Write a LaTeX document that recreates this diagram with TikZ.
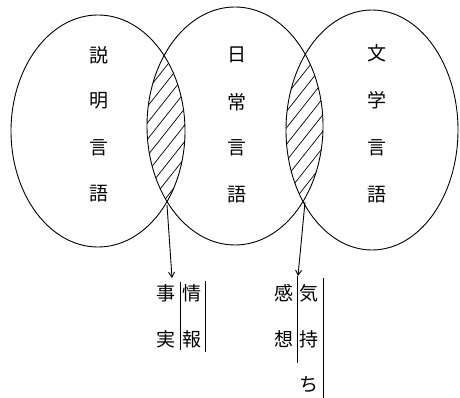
\documentclass[tikz,border=0pt]{standalone}
\usepackage{fontspec}
\newfontfamily\jp{Noto Sans CJK JP}
\usetikzlibrary{arrows.meta}
\begin{document}
\begin{tikzpicture}[x=1pt,y=-1pt,
  lbl/.style={font=\jp\fontsize{19}{21}\selectfont, inner sep=0pt},
  ring/.style={line width=0.9pt},
  hatch/.style={line width=0.7pt},
  side/.style={line width=0.9pt},
  arr/.style={line width=0.9pt, -{Straight Barb[length=5pt,width=6pt]}}]
\useasboundingbox (0,0) rectangle (460,398);
% ellipses
\draw[ring] (98,131) ellipse [x radius=87, y radius=116];
\draw[ring] (235,126) ellipse [x radius=88, y radius=119];
\draw[ring] (372,130) ellipse [x radius=86, y radius=120];
% hatching of the overlaps
\begin{scope}
  \clip (98,131) ellipse [x radius=87, y radius=116];
  \clip (235,126) ellipse [x radius=88, y radius=119];
  \foreach \i in {0,13,...,330} \draw[hatch] (\i,260) -- ++(170,-215);
\end{scope}
\begin{scope}
  \clip (235,126) ellipse [x radius=88, y radius=119];
  \clip (372,130) ellipse [x radius=86, y radius=120];
  \foreach \i in {130,143,...,470} \draw[hatch] (\i,260) -- ++(170,-215);
\end{scope}
% labels in the ellipses
\node[lbl] (s1) at (99,55) {説};
\node[lbl] (s2) at (99,101) {明};
\node[lbl] (s3) at (99,148) {言};
\node[lbl] (s4) at (99,194) {語};
\node[lbl] (n1) at (237,55) {日};
\node[lbl] (n2) at (237,102) {常};
\node[lbl] (n3) at (237,148) {言};
\node[lbl] (n4) at (237,195) {語};
\node[lbl] (b1) at (377,53) {文};
\node[lbl] (b2) at (377,100) {学};
\node[lbl] (b3) at (377,148) {言};
\node[lbl] (b4) at (377,195) {語};
% lower labels
\node[lbl] (j1) at (166,293) {事};
\node[lbl] (j2) at (166,339) {実};
\node[lbl] (k1) at (192,293) {情};
\node[lbl] (k2) at (192,339) {報};
\node[lbl] (m1) at (284,293) {感};
\node[lbl] (m2) at (284,339) {想};
\node[lbl] (q1) at (309,293) {気};
\node[lbl] (q2) at (309,339) {持};
\node[lbl] (q3) at (309,385) {ち};
% connectors
\coordinate (x1) at (167,205);
\coordinate (x2) at (305,202);
\coordinate (t1) at (172,278);
\coordinate (t2) at (298,276);
\draw[arr] (x1) -- (t1);
\draw[arr] (x2) -- (t2);
% side lines
\draw[side] (180,282) -- (180,350);
\draw[side] (205,281) -- (205,352);
\draw[side] (297,276) -- (297,363);
\draw[side] (323,278) -- (323,398);
\end{tikzpicture}
\end{document}
